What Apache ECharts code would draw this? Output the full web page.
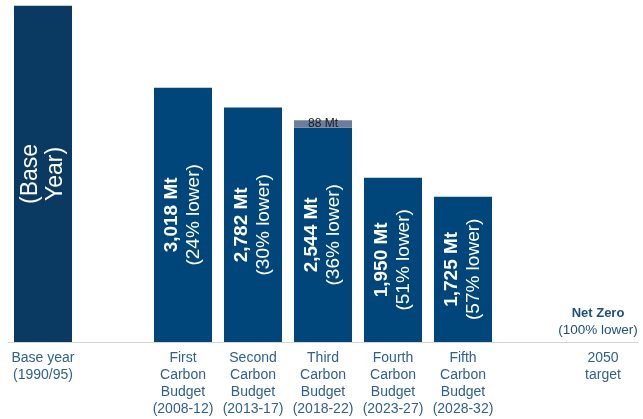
<!DOCTYPE html>
<html><head><meta charset="utf-8">
<script src="https://cdn.jsdelivr.net/npm/echarts@6/dist/echarts.min.js"></script>
<style>html,body{margin:0;padding:0;background:#fff}#c{width:643px;height:419px}</style>
</head><body><div id="c"></div>
<script>
const categories = ["Base year\n(1990/95)", "", "First\nCarbon\nBudget\n(2008-12)", "Second\nCarbon\nBudget\n(2013-17)", "Third\nCarbon\nBudget\n(2018-22)", "Fourth\nCarbon\nBudget\n(2023-27)", "Fifth\nCarbon\nBudget\n(2028-32)", "", "2050\ntarget"];
const budgetValues = [3990, null, 3018, 2782, 2544, 1950, 1725, null, 0];
const extraValues = [null, null, null, null, 88, null, null, null, null];
const pctLower = [null, null, 24, 30, 36, 51, 57, null, 100];
const baseLabel = "(Base\nYear)";
const targetLabel = "Net Zero";

const fontFam = '"Liberation Sans", Arial, sans-serif';
const mainData = budgetValues.map((v, i) => {
  if (v === null) return null;
  if (i === 0) {
    return { value: v, itemStyle: { color: '#0a3a62' },
      label: { show: true, position: 'inside', rotate: 90, formatter: baseLabel, color: '#fff', fontSize: 23, lineHeight: 25, fontFamily: fontFam } };
  }
  if (v === 0) {
    return { value: v, label: { show: true, position: 'top', distance: 3, offset: [-5, 0],
      formatter: '{b|' + targetLabel + '}\n{n|(' + pctLower[i] + '% lower)}',
      rich: { b: { fontSize: 13, fontWeight: 'bold', color: '#1f4e80', lineHeight: 17, fontFamily: fontFam },
              n: { fontSize: 13.5, color: '#1f4e80', lineHeight: 17, fontFamily: fontFam } } } };
  }
  return { value: v, label: { show: true, position: 'inside', rotate: 90,
    formatter: '{m|' + v.toLocaleString('en-US') + ' Mt}\n{p|(' + pctLower[i] + '% lower)}',
    rich: { m: { fontSize: 19, fontWeight: 'bold', color: '#fff', lineHeight: 22, fontFamily: fontFam },
            p: { fontSize: 19, color: '#fff', lineHeight: 22, fontFamily: fontFam } } } };
});

const chart = echarts.init(document.getElementById('c'), null, { renderer: 'canvas' });
chart.setOption({
  animation: false,
  grid: { left: 8, right: 5, top: 5, bottom: 77, containLabel: false, outerBoundsMode: 'none' },
  xAxis: { type: 'category', data: categories,
    axisLine: { lineStyle: { color: '#d4d4d4', width: 1 } }, axisTick: { show: false },
    axisLabel: { interval: 0, color: '#30608f', fontSize: 14, lineHeight: 17, margin: 8, fontFamily: fontFam } },
  yAxis: { type: 'value', min: 0, max: 4000, show: false, splitLine: { show: false } },
  series: [
    { type: 'bar', stack: 's', barWidth: 58, data: mainData,
      itemStyle: { color: '#01467a' } },
    { type: 'bar', stack: 's', barWidth: 58, data: extraValues,
      itemStyle: { color: '#6b7d9d' },
      label: { show: true, position: 'inside', formatter: p => p.value + ' Mt', color: '#1a1a1a', fontSize: 12, fontFamily: fontFam } }
  ]
});
</script></body></html>
